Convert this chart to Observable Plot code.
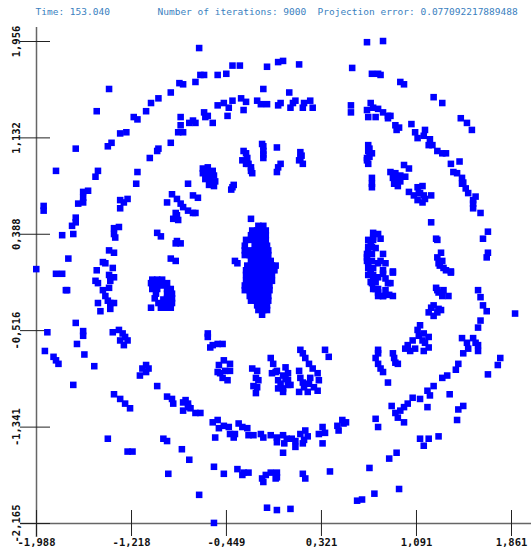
<!DOCTYPE html>
<html><head><meta charset="utf-8">
<script src="https://cdn.jsdelivr.net/npm/d3@7"></script>
<script src="https://cdn.jsdelivr.net/npm/@observablehq/plot@0.6"></script>
<style>html,body{margin:0;padding:0;background:#fff}</style>
</head><body><div id="chart"></div>
<script>
const headerTexts = ["Time: 153.040", "Number of iterations: 9000", "Projection error: 0.077092217889488"];
const xTickValues = [-1.988, -1.218, -0.449, 0.321, 1.091, 1.861];
const xTickLabels = ["-1,988", "-1,218", "-0,449", "0,321", "1,091", "1,861"];
const yTickValues = [-2.165, -1.341, -0.516, 0.308, 1.132, 1.956];
const yTickLabels = ["-2,165", "-1,341", "-0,516", "0,388", "1,132", "1,956"];

const outerRing = [
[-0.67,1.90],[-0.40,1.75],[-0.34,1.75],[-0.12,1.74],[-0.03,1.78],[0.01,1.79],[0.14,1.76],
[-0.66,1.67],[-0.63,1.67],[-0.52,1.67],[-0.45,1.68],[-0.83,1.60],[-0.80,1.59],[-0.70,1.61],
[-1.40,1.55],[-0.90,1.52],[-0.15,1.55],[-1.00,1.47],[-1.06,1.43],[-1.10,1.36],[-1.50,1.36],
[-1.20,1.31],[-1.17,1.29],[-1.31,1.17],[-1.26,1.18],[-1.38,1.09],[-1.41,1.06],[-1.67,1.04],
[-1.83,0.85],[-1.49,0.85],[-1.51,0.80],[-1.61,0.67],[-1.57,0.68],[-1.61,0.62],[-1.65,0.57],[-1.61,0.58],
[-1.93,0.55],[-1.93,0.51],[-1.67,0.45],[-1.67,0.41],[-1.70,0.38],[-1.78,0.30],[-1.69,0.31],
[-1.73,0.10],[-1.99,0.01],[-1.83,-0.03],[-1.78,-0.03],[-1.75,-0.17],[-1.74,-0.17],
[-1.67,-0.45],[-1.61,-0.52],[-1.61,-0.56],[-1.66,-0.63],[-1.90,-0.53],[-1.92,-0.69],[-1.85,-0.74],[-1.83,-0.77],[-1.81,-0.80],
[-1.60,-0.72],[-1.52,-0.82],[-1.69,-0.98],[-1.36,-1.06],[-1.31,-1.10],[-1.27,-1.14],[-1.23,-1.18],
[-1.41,-1.44],[-1.25,-1.55],[-1.21,-1.55],[-0.96,-1.44],[-0.93,-1.46],[-0.81,-1.53],[-0.75,-1.62],
[-0.55,-1.68],[-0.47,-1.74],[-0.36,-1.70],[-0.31,-1.73],[-0.27,-1.73],[-0.32,-1.75],
[-0.16,-1.78],[-0.13,-1.75],[-0.09,-1.73],[-0.04,-1.73],[-0.04,-1.77],[-0.15,-1.81],[-0.05,-1.78],
[-0.92,-1.74],[-0.67,-1.92],[-0.12,-2.03],[-0.04,-2.05],[0.07,-2.04],[-0.55,-2.16],[0.61,-1.97],
[0.17,-1.74],[0.19,-1.78],[0.39,-1.72],[0.71,-1.69],[0.95,-1.87],[0.75,-1.91],[0.65,-1.96],
[0.93,-1.56],[0.87,-1.61],[1.12,-1.44],[1.19,-1.44],[1.27,-1.42],[1.15,-1.50],
[1.47,-1.16],[1.43,-1.19],[1.42,-1.28],[1.36,-1.06],[1.77,-0.75],[1.75,-0.81],[1.67,-0.89],
[1.89,-0.37],[1.61,-0.43],[1.59,-0.49],[1.59,-0.17],[1.61,-0.23],[1.63,-0.30],[1.66,-0.35],
[1.67,0.33],[1.63,0.27],[1.67,0.15],[1.66,0.11],
[1.39,0.84],[1.42,0.83],[1.46,0.79],[1.47,0.75],[1.46,0.74],[1.49,0.70],[1.51,0.66],[1.57,0.63],[1.55,0.60],[1.55,0.57],[1.55,0.53],[1.61,0.49],
[1.44,0.93],[1.37,0.91],[1.45,1.30],[1.50,1.26],[1.54,1.20],[1.23,1.48],[1.30,1.43],
[0.96,1.61],[0.99,1.59],[0.73,1.68],[0.78,1.68],[0.80,1.67],[0.57,1.73],[0.69,1.95],[0.82,1.96]
];

const innerRing = [
[-0.52,1.41],[-0.47,1.43],[-0.40,1.45],[-0.33,1.47],[-0.29,1.44],[-0.31,1.37],[-0.43,1.39],
[-0.20,1.45],[-0.17,1.42],[-0.12,1.42],[-0.03,1.41],[-0.44,1.32],
[-0.63,1.35],[-0.62,1.31],[-0.60,1.32],[-0.56,1.26],[-0.72,1.28],[-0.70,1.26],[-0.75,1.26],
[-0.82,1.31],[-0.82,1.24],[-0.84,1.18],[-0.80,1.18],[-0.90,1.09],[-1.00,1.04],[-1.01,1.02],
[-1.07,0.96],[-1.17,0.84],[-1.18,0.74],[-1.31,0.60],[-1.25,0.61],[-1.28,0.58],[-1.31,0.53],
[-1.36,0.36],[-1.32,0.37],[-1.36,0.31],[-1.35,0.28],[-1.40,0.17],[-1.36,0.15],
[-1.50,0.00],[-1.45,0.07],[-1.43,0.06],[-1.37,0.02],[-1.40,-0.04],[-1.36,-0.06],
[-1.49,-0.11],[-1.51,-0.09],[-1.45,-0.17],[-1.43,-0.22],[-1.40,-0.15],[-1.39,-0.09],[-1.41,-0.26],[-1.39,-0.28],[-1.36,-0.28],[-1.49,-0.28],[-1.47,-0.35],[-1.39,-0.33],
[-1.37,-0.53],[-1.32,-0.51],[-1.29,-0.54],[-1.27,-0.57],[-1.25,-0.60],[-1.28,-0.64],[-1.31,-0.60],
[-1.10,-0.81],[-1.08,-0.84],[-1.13,-0.84],[-1.15,-0.90],[-1.10,-0.87],[-1.01,-0.99],
[-0.93,-1.08],[-0.89,-1.10],[-0.88,-1.14],[-0.80,-1.13],[-0.78,-1.11],[-0.76,-1.14],[-0.74,-1.18],[-0.70,-1.22],[-0.66,-1.22],[-0.80,-1.20],[-0.76,-1.17],
[-0.56,-1.30],[-0.52,-1.28],[-0.51,-1.35],[-0.47,-1.33],[-0.43,-1.34],[-0.42,-1.40],[-0.39,-1.43],[-0.38,-1.40],[-0.35,-1.31],[-0.32,-1.34],[-0.28,-1.35],[-0.27,-1.41],[-0.23,-1.41],[-0.17,-1.40],[-0.15,-1.43],[-0.09,-1.41],[-0.04,-1.43],[-0.04,-1.47],[-0.54,-1.43],
[0.01,-1.41],[0.04,-1.44],[0.08,-1.44],[0.11,-1.46],[0.15,-1.40],[0.19,-1.37],[0.21,-1.42],[0.17,-1.48],[0.02,-1.48],[0.11,-1.51],[0.18,-1.45],[0.01,-1.56],
[0.33,-1.34],[0.35,-1.39],[0.30,-1.40],[0.33,-1.48],[0.49,-1.28],[0.50,-1.31],[0.45,-1.33],[0.46,-1.37],[0.52,-1.30],
[0.76,-1.27],[0.78,-1.34],[1.02,-1.14],[0.99,-1.17],[0.96,-1.20],[0.92,-1.22],[0.94,-1.26],[0.99,-1.30],[0.89,-1.16],
[1.23,-0.99],[1.18,-1.03],[1.20,-1.07],[1.12,-1.10],[1.06,-1.09],[1.18,-1.17],[1.34,-0.90],[1.30,-0.92],[1.43,-0.80],[1.41,-0.85],
[1.46,-0.58],[1.50,-0.62],[1.55,-0.58],[1.57,-0.62],[1.59,-0.64],[1.59,-0.69],[1.51,-0.67],[1.47,-0.71],
[1.08,1.18],[1.16,1.20],[1.10,1.13],[1.15,1.15],[1.20,1.12],[1.22,1.07],[1.19,1.07],[1.26,1.02],[1.30,1.00],[1.33,1.00],[1.05,1.25],
[0.92,1.24],[0.95,1.22],[0.93,1.20],
[0.72,1.43],[0.69,1.37],[0.74,1.39],[0.78,1.38],[0.70,1.31],[0.76,1.31],[0.82,1.35],[0.86,1.32],[0.88,1.32],[0.86,1.30],[0.56,1.41],[0.56,1.35],
[-0.01,1.43],[0.09,1.43],[0.11,1.45],[0.18,1.43],[0.17,1.39],[0.23,1.45],[0.25,1.39],[0.07,1.39],[0.06,1.52],
[1.12,-0.47],[1.10,-0.51],[1.11,-0.56],[1.15,-0.54],[1.19,-0.57],[1.14,-0.60],[1.16,-0.62],[1.06,-0.60],[1.02,-0.64],[1.00,-0.67],[1.04,-0.69],[1.08,-0.67],[1.15,-0.69],[1.19,-0.66],
[1.21,-0.32],[1.23,-0.30],[1.27,-0.33],[1.23,-0.39],[1.19,-0.36],[1.26,-0.36],[1.29,-0.34]
];

const leftFeatures = [
[-0.64,0.87],[-0.60,0.88],[-0.56,0.85],[-0.64,0.83],[-0.59,0.83],[-0.55,0.81],[-0.62,0.78],[-0.58,0.78],[-0.54,0.76],[-0.59,0.73],[-0.55,0.72],
[-0.40,0.71],[-0.39,0.73],[-0.41,0.69],[-0.76,0.74],
[-0.31,1.02],[-0.28,0.96],[-0.25,0.88],[-0.24,0.83],[-0.29,0.91],[-0.32,0.94],[-0.29,1.00],[-0.27,0.91],[-0.25,0.85],
[-0.16,1.08],[-0.15,1.02],[-0.15,0.96],[-0.15,1.06],[-0.15,0.99],[-0.04,1.05],[-0.03,0.88],[-0.04,0.84],
[-0.89,0.65],[-0.93,0.58],[-0.85,0.61],[-0.82,0.57],[-0.80,0.54],[-0.76,0.51],[-0.72,0.49],[-0.70,0.49],[-0.72,0.64],[-0.68,0.62],
[-0.85,0.47],[-0.88,0.44],[-0.84,0.43],[-0.86,0.49],
[-1.01,0.32],[-0.98,0.29],[-0.85,0.25],[-0.86,0.23],[-0.82,0.23],[-0.90,0.10],[-0.86,0.08],[-0.38,0.08],[-0.36,0.06],
[-1.05,-0.08],[-1.01,-0.08],[-0.97,-0.08],
[-1.06,-0.11],[-1.02,-0.11],[-0.98,-0.11],[-0.93,-0.11],[-0.97,-0.13],
[-1.05,-0.16],[-1.01,-0.16],[-0.93,-0.16],[-0.90,-0.16],
[-1.02,-0.20],[-0.93,-0.20],[-0.89,-0.20],
[-1.03,-0.24],[-0.96,-0.25],[-0.93,-0.24],[-0.89,-0.24],
[-1.00,-0.28],[-0.96,-0.28],[-0.92,-0.28],[-0.89,-0.28],
[-1.06,-0.32],[-0.98,-0.32],[-0.94,-0.32],[-0.90,-0.32],
[-0.60,-0.54],[-0.60,-0.57],[-0.56,-0.64],[-0.52,-0.63],[-0.48,-0.63],[-0.58,-0.66],
[-0.47,-0.77],[-0.51,-0.81],[-0.52,-0.87],[-0.48,-0.92],[-0.44,-0.94],[-0.42,-0.86],[-0.42,-0.80],[-0.46,-0.86],[-0.50,-0.88],
[-0.24,-0.84],[-0.20,-0.86],[-0.21,-0.92],[-0.19,-0.94],[-0.23,-0.99],[-0.20,-1.00],[-0.21,-1.05],
[-0.09,-0.75],[-0.07,-0.80],[-0.04,-0.86],[-0.03,-0.94],[-0.03,-1.01],[-0.08,-0.88],[-0.05,-0.87]
];

const centerCluster = [
[-0.25,0.44],
[-0.19,0.38],[-0.15,0.38],
[-0.24,0.34],[-0.20,0.34],[-0.16,0.34],[-0.13,0.34],
[-0.25,0.30],[-0.21,0.30],[-0.17,0.30],[-0.13,0.30],
[-0.29,0.26],[-0.25,0.26],[-0.21,0.26],[-0.17,0.26],[-0.13,0.26],
[-0.30,0.21],[-0.22,0.21],[-0.18,0.21],[-0.14,0.21],[-0.12,0.21],
[-0.30,0.17],[-0.26,0.17],[-0.22,0.17],[-0.18,0.17],[-0.14,0.17],[-0.11,0.17],
[-0.30,0.13],[-0.26,0.13],[-0.22,0.13],[-0.18,0.13],[-0.14,0.13],[-0.11,0.13],
[-0.25,0.08],[-0.20,0.08],[-0.16,0.08],[-0.12,0.08],[-0.09,0.08],
[-0.28,0.04],[-0.25,0.04],[-0.20,0.04],[-0.16,0.04],[-0.12,0.04],[-0.08,0.04],[-0.05,0.04],
[-0.29,0.00],[-0.25,0.00],[-0.20,0.00],[-0.16,0.00],[-0.12,0.00],[-0.08,0.00],[-0.06,0.00],
[-0.29,-0.04],[-0.25,-0.04],[-0.20,-0.04],[-0.16,-0.04],[-0.12,-0.04],[-0.08,-0.04],
[-0.29,-0.09],[-0.25,-0.09],[-0.20,-0.09],[-0.16,-0.09],[-0.12,-0.09],[-0.08,-0.09],
[-0.30,-0.13],[-0.26,-0.13],[-0.22,-0.13],[-0.18,-0.13],[-0.14,-0.13],[-0.10,-0.13],
[-0.30,-0.17],[-0.26,-0.17],[-0.22,-0.17],[-0.18,-0.17],[-0.14,-0.17],[-0.10,-0.17],
[-0.26,-0.22],[-0.22,-0.22],[-0.18,-0.22],[-0.14,-0.22],[-0.11,-0.22],
[-0.25,-0.26],[-0.21,-0.26],[-0.17,-0.26],[-0.13,-0.26],[-0.11,-0.26],
[-0.20,-0.30],[-0.16,-0.30],[-0.12,-0.30],
[-0.19,-0.34],[-0.15,-0.34],[-0.12,-0.34],
[-0.16,-0.38]
];

const rightFeatures = [
[-0.01,-0.97],[0.01,-1.01],[0.01,-1.04],[0.03,-0.83],[0.05,-0.88],[0.05,-0.94],[0.07,-0.98],[0.01,-0.90],[0.05,-0.98],[0.03,-0.93],
[0.14,-0.86],[0.15,-0.92],[0.17,-0.96],[0.18,-1.00],[0.14,-1.04],[0.21,-1.04],
[0.15,-0.68],[0.17,-0.71],[0.19,-0.75],[0.22,-0.80],[0.25,-0.84],[0.29,-0.88],[0.30,-0.94],[0.23,-0.92],[0.26,-1.00],[0.29,-1.03],[0.22,-0.97],
[0.35,-0.68],[0.38,-0.74],
[0.78,-0.68],[0.76,-0.75],[0.78,-0.80],[0.80,-0.84],[0.82,-0.87],[0.78,-0.71],
[0.90,-0.71],[0.91,-0.75],[0.94,-0.80],[0.92,-0.79],[0.86,-0.96],
[1.25,-0.15],[1.27,-0.19],[1.30,-0.22],[1.35,-0.22],[1.26,-0.17],[1.31,-0.17],[1.33,0.00],[1.37,-0.02],
[0.72,-0.03],[0.74,-0.07],[0.73,-0.11],[0.76,-0.16],[0.78,-0.19],[0.82,-0.22],[0.78,-0.06],[0.82,-0.03],[0.90,-0.02],[0.86,-0.11],[0.88,-0.11],[0.84,-0.17],[0.90,-0.22],[0.87,-0.21],
[0.78,0.31],[0.74,0.28],[0.72,0.23],[0.70,0.17],[0.69,0.11],[0.70,0.06],[0.72,0.00],[0.74,-0.04],[0.80,0.27],[0.82,0.14],[0.80,0.08],[0.84,0.06],[0.82,0.00],[0.90,-0.01],[0.84,-0.07],[0.78,0.06],[0.76,0.19],
[0.74,0.32],[0.70,0.26],[0.74,0.26],[0.70,0.20],[0.73,0.20],[0.69,0.14],[0.73,0.14],[0.69,0.08],[0.73,0.08],[0.70,0.02],[0.74,0.02],[0.70,-0.04],[0.72,-0.10],[0.76,-0.10],[0.74,-0.16],[0.78,-0.16],[0.78,-0.22],[0.82,-0.22],
[1.29,0.15],[1.26,0.11],[1.27,0.06],[1.31,0.02],[1.37,-0.01],[1.30,0.08],[1.28,0.04],[1.21,0.41],[1.25,0.27],[1.26,0.26],
[0.99,0.90],[1.03,0.87],[0.88,0.84],[0.92,0.83],[0.96,0.81],[1.00,0.80],[0.90,0.79],[0.92,0.75],[0.94,0.72],[0.91,0.74],[0.94,0.79],[0.96,0.76],
[1.03,0.67],[1.10,0.71],[1.14,0.72],[1.11,0.66],[1.15,0.64],[1.21,0.64],[1.10,0.60],[1.14,0.58],[1.12,0.66],[1.16,0.61],[1.07,0.64],
[0.70,1.07],[0.70,1.02],[0.73,1.00],[0.69,0.96],[0.70,0.91],[0.69,0.94],[0.71,1.04],[0.71,0.97],[0.73,0.79],[0.73,0.74],[0.73,0.71],
[0.15,1.01],[0.15,0.96],[0.17,0.91],[0.14,0.94],[0.16,0.98],[-0.01,0.91]
];

const points = [...outerRing, ...innerRing, ...leftFeatures, ...centerCluster, ...rightFeatures];

const xDom = [-1.988, 1.861], yDom = [-2.165, 1.956];
const mL = 36, mR = 20, mT = 41, mB = 30, W = 531, H = 553;
const kx = (W - mL - mR) / (xDom[1] - xDom[0]);
const ky = (H - mT - mB) / (yDom[1] - yDom[0]);
const mono = "'DejaVu Sans Mono', 'Liberation Mono', monospace";

const chart = Plot.plot({
  width: W, height: H,
  marginLeft: mL, marginRight: mR, marginTop: mT, marginBottom: mB,
  x: {domain: xDom, axis: null},
  y: {domain: yDom, axis: null},
  style: {background: "#fff", overflow: "visible"},
  marks: [
    Plot.ruleY([yDom[0]], {x1: xDom[0] - 16 / kx, x2: xDom[1] + 20 / kx, stroke: "#666", strokeWidth: 1.5}),
    Plot.ruleX([xDom[0]], {y1: yDom[0] - 14 / ky, y2: yDom[1] + 14 / ky, stroke: "#666", strokeWidth: 1.5}),
    Plot.ruleX(xTickValues, {x: d => d, y1: yDom[0] - 13 / ky, y2: yDom[0] + 13 / ky, stroke: "#222", strokeWidth: 1}),
    Plot.ruleY(yTickValues, {y: d => d, x1: xDom[0] - 16 / kx, x2: xDom[0] + 14 / kx, stroke: "#222", strokeWidth: 1}),
    Plot.dot(points, {x: d => d[0], y: d => d[1], symbol: "square", r: 3.7, fill: "#0000ff"}),
    Plot.text(xTickValues, {x: d => d, text: (d, i) => xTickLabels[i], frameAnchor: "bottom", dy: 19, lineAnchor: "middle",
      fontFamily: mono, fontWeight: "bold", fontSize: 10.5, fill: "#111"}),
    Plot.text(yTickValues, {y: d => d, x: xDom[0] - 20 / kx, text: (d, i) => yTickLabels[i], rotate: -90,
      textAnchor: "middle", lineAnchor: "middle", fontFamily: mono, fontWeight: "bold", fontSize: 10.5, fill: "#111"}),
    Plot.text([headerTexts[0]], {frameAnchor: "top-left", dx: -1, dy: -30, textAnchor: "start", lineAnchor: "middle", fontFamily: mono, fontSize: 9.5, fill: "#3a7fc0"}),
    Plot.text([headerTexts[1]], {frameAnchor: "top-left", dx: 121, dy: -30, textAnchor: "start", lineAnchor: "middle", fontFamily: mono, fontSize: 9.5, fill: "#3a7fc0"}),
    Plot.text([headerTexts[2]], {frameAnchor: "top-left", dx: 281, dy: -30, textAnchor: "start", lineAnchor: "middle", fontFamily: mono, fontSize: 9.5, fill: "#3a7fc0"})
  ]
});
document.getElementById("chart").appendChild(chart);
</script>
</body></html>
